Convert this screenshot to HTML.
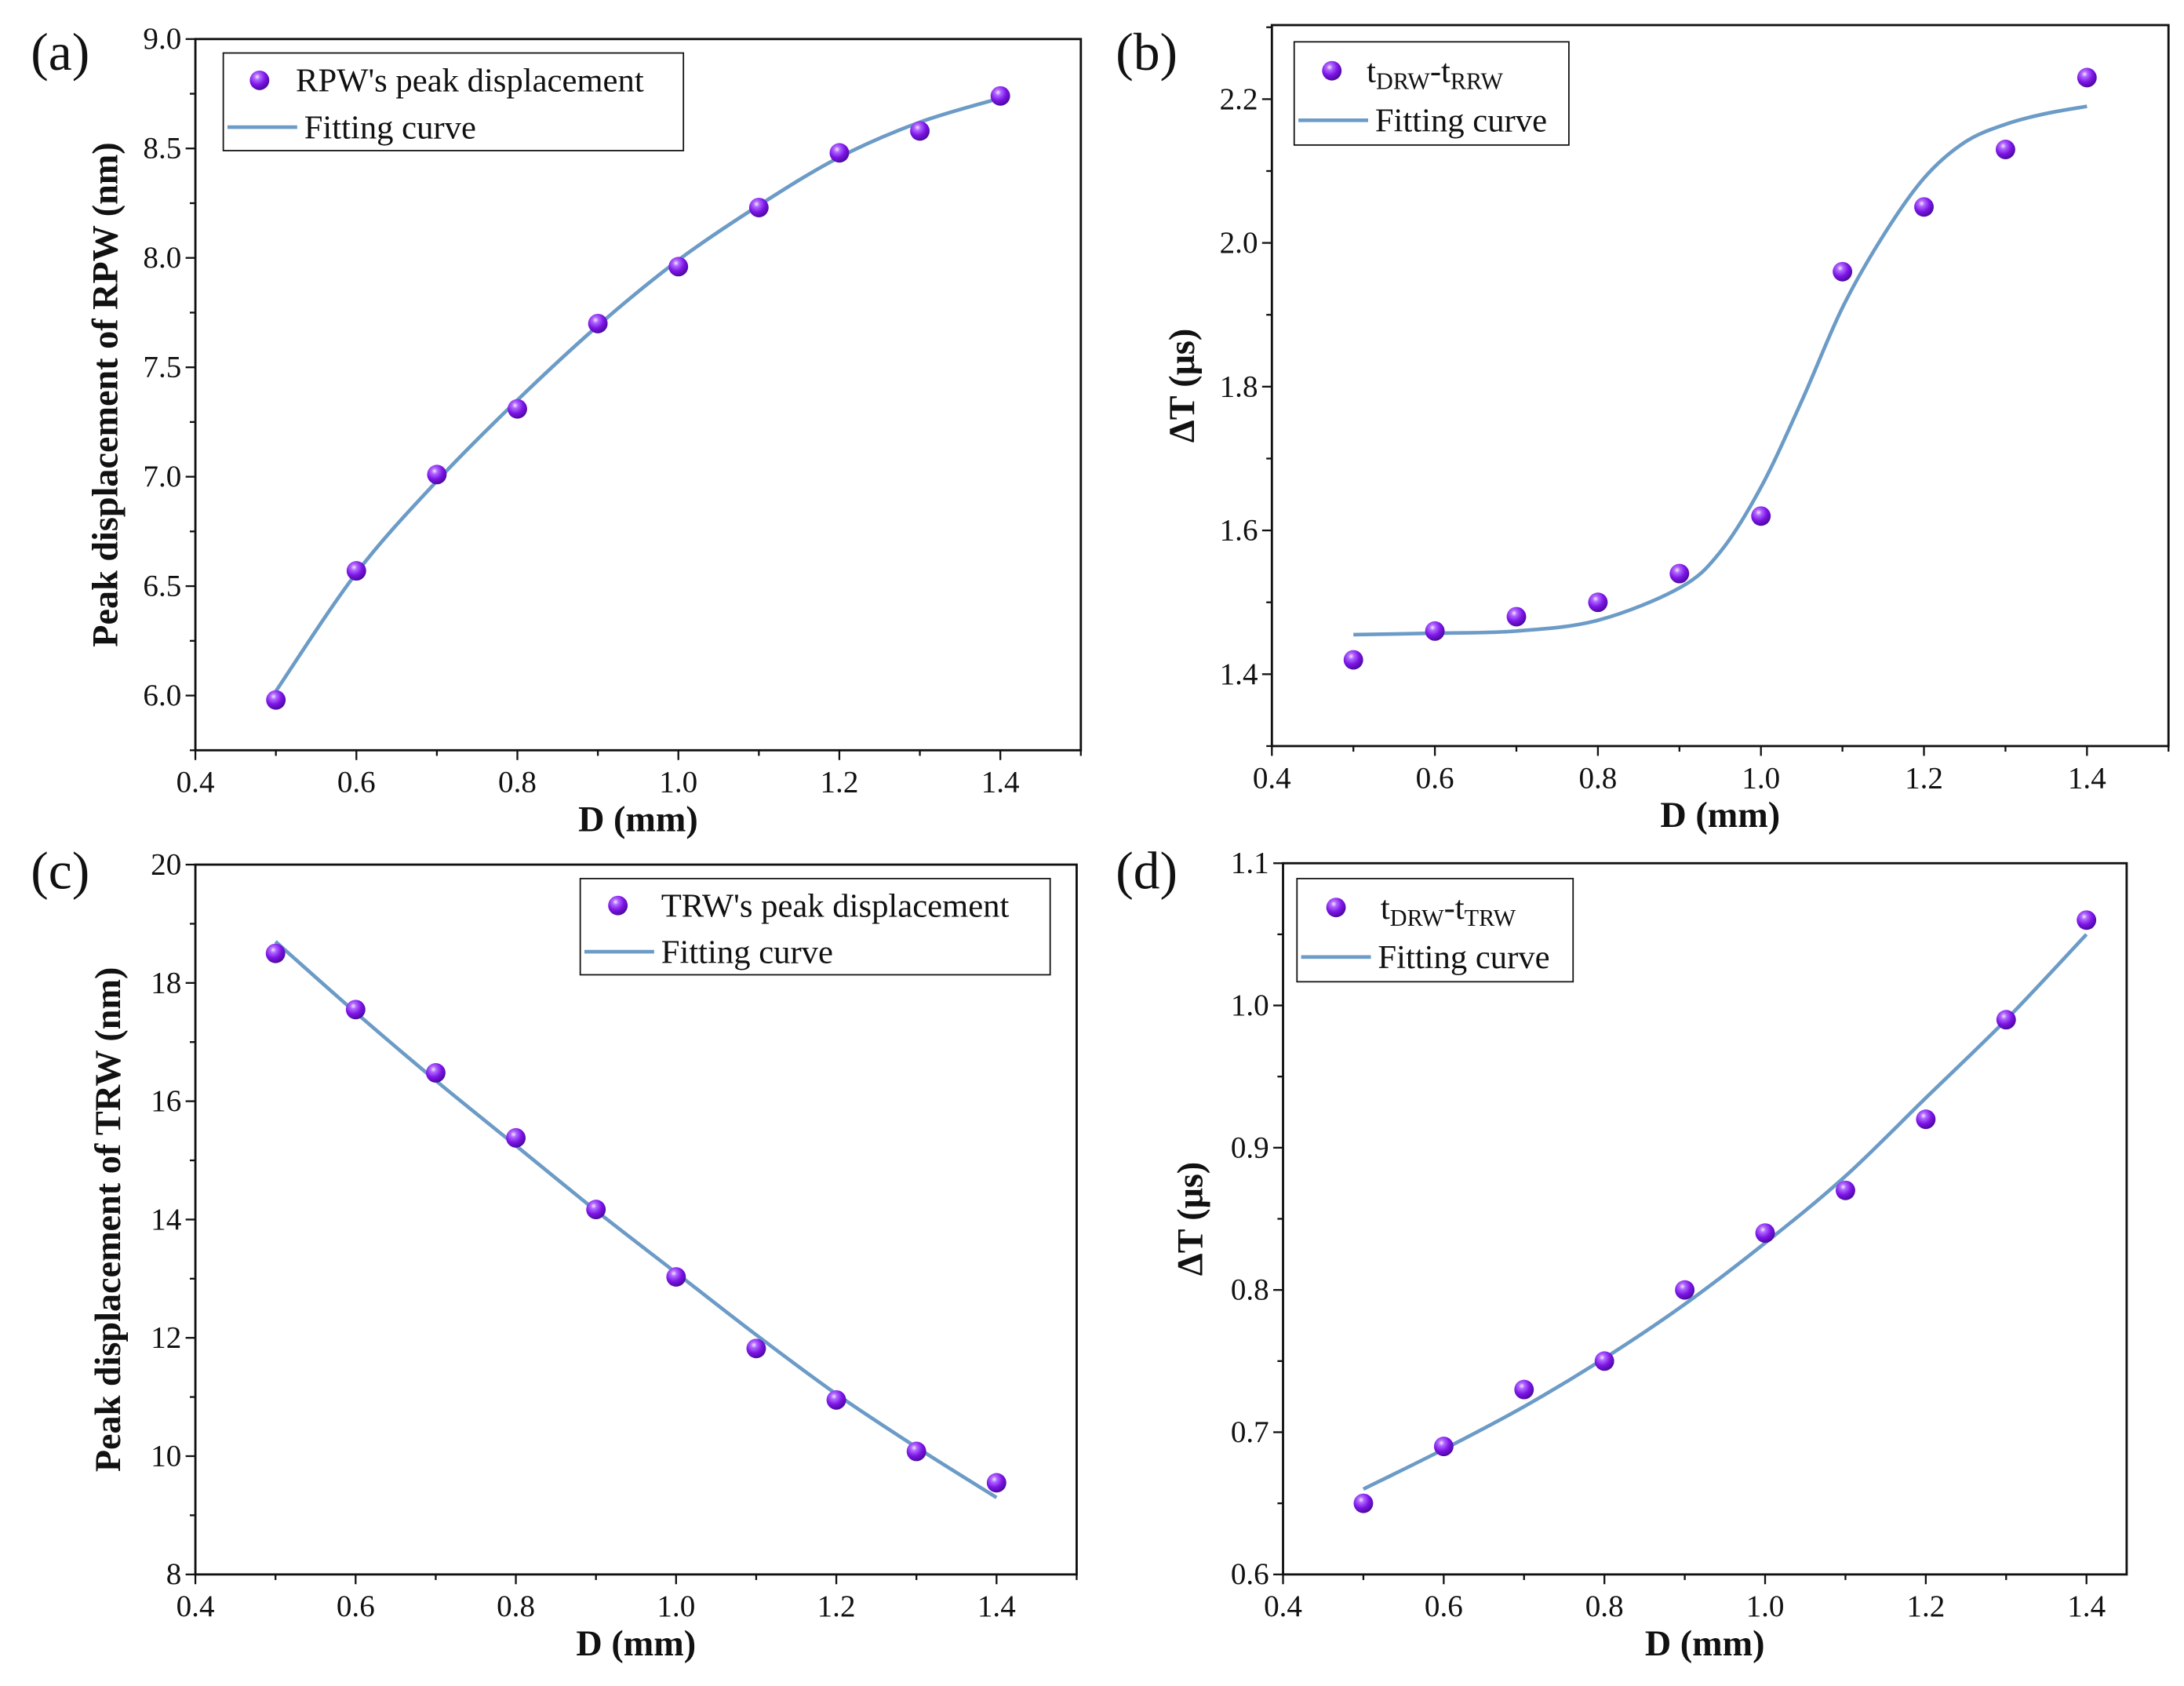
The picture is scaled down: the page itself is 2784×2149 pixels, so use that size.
<!DOCTYPE html>
<html><head><meta charset="utf-8"><style>
html,body{margin:0;padding:0;background:#fff}
svg{display:block;font-family:"Liberation Serif",serif}
text{font-family:"Liberation Serif",serif;fill:#111}
</style></head><body>
<svg id="fig" width="2784" height="2149" viewBox="0 0 1566 1209" font-family="Liberation Serif, serif" xmlns="http://www.w3.org/2000/svg">
<defs>
<radialGradient id="ball" cx="0.38" cy="0.32" r="0.7">
<stop offset="0" stop-color="#f4e8ff"/>
<stop offset="0.22" stop-color="#b066ff"/>
<stop offset="0.6" stop-color="#7c14e6"/>
<stop offset="1" stop-color="#4a0a9a"/>
</radialGradient>
</defs>
</svg>
<script>
const xCats=[0.5,0.6,0.7,0.8,0.9,1.0,1.1,1.2,1.3,1.4];
const aPoints=[5.98,6.57,7.01,7.31,7.70,7.96,8.23,8.48,8.58,8.74];
const aFit=[6.02,6.56,6.98,7.35,7.69,7.99,8.24,8.46,8.62,8.73];
const bPoints=[1.42,1.46,1.48,1.50,1.54,1.62,1.96,2.05,2.13,2.23];
const bFitX=[0.5,0.6,0.7,0.8,0.9,0.95,1.0,1.05,1.1,1.15,1.2,1.25,1.3,1.35,1.4];
const bFit=[1.455,1.457,1.46,1.475,1.52,1.57,1.66,1.78,1.91,2.01,2.09,2.14,2.165,2.18,2.19];
const cPoints=[18.5,17.55,16.48,15.38,14.17,13.03,11.82,10.95,10.08,9.55];
const cFit=[18.7,17.5,16.35,15.25,14.15,13.1,12.05,11.05,10.15,9.3];
const dPoints=[0.65,0.69,0.73,0.75,0.80,0.84,0.87,0.92,0.99,1.06];
const dFit=[0.66,0.688,0.718,0.752,0.79,0.833,0.88,0.935,0.99,1.05];
const xTicks=[0.4,0.6,0.8,1.0,1.2,1.4];
const aTicks=[6.0,6.5,7.0,7.5,8.0,8.5,9.0];
const bTicks=[1.4,1.6,1.8,2.0,2.2];
const cTicks=[8,10,12,14,16,18,20];
const dTicks=[0.6,0.7,0.8,0.9,1.0,1.1];

const NS="http://www.w3.org/2000/svg";
const svg=document.getElementById('fig');
const FF="Liberation Serif, serif";
function mk(tag,attrs,parent){const e=document.createElementNS(NS,tag);for(const k in attrs)e.setAttribute(k,attrs[k]);if(tag==='text')e.setAttribute('font-family',FF);(parent||svg).appendChild(e);return e;}
function smooth(pts){let d="M"+pts[0][0]+","+pts[0][1];for(let i=0;i<pts.length-1;i++){const p0=pts[Math.max(0,i-1)],p1=pts[i],p2=pts[i+1],p3=pts[Math.min(pts.length-1,i+2)];const c1=[p1[0]+(p2[0]-p0[0])/6,p1[1]+(p2[1]-p0[1])/6],c2=[p2[0]-(p3[0]-p1[0])/6,p2[1]-(p3[1]-p1[1])/6];d+=" C"+c1[0]+","+c1[1]+" "+c2[0]+","+c2[1]+" "+p2[0]+","+p2[1];}return d;}

function panel(o){
  const g=mk('g',{});
  
  
  const X=v=>o.x0+(v-0.4)/(o.xmax-0.4)*(o.x1-o.x0);
  const Y=v=>o.y1-(v-o.ymin)/(o.ymax-o.ymin)*(o.y1-o.y0);
  const box=mk('rect',{x:o.x0,y:o.y0,width:o.x1-o.x0,height:o.y1-o.y0,fill:'none',stroke:'#111','stroke-width':1.6},g);
  
  
  for(let v=0.4;v<=o.xmax+0.001;v+=0.1){const x=X(v);const major=Math.round(v*10)%2===0;mk('line',{x1:x,x2:x,y1:o.y1,y2:o.y1+(major?7:4),stroke:'#111','stroke-width':1.3},g);}
  xTicks.forEach(v=>{const t=mk('text',{x:X(v),y:o.y1+30,'text-anchor':'middle','font-size':22},g);t.textContent=v.toFixed(1);
    
    });
  const st=o.yticks[1]-o.yticks[0];
  for(let v=o.ymin;v<=o.ymax+1e-9;v+=st/2){const y=Y(v);const major=Math.abs((v-o.yticks[0])/st-Math.round((v-o.yticks[0])/st))<1e-6;mk('line',{x1:o.x0-(major?7:4),x2:o.x0,y1:y,y2:y,stroke:'#111','stroke-width':1.3},g);}
  o.yticks.forEach(v=>{const t=mk('text',{x:o.x0-10,y:Y(v)+7,'text-anchor':'end','font-size':22},g);t.textContent=v.toFixed(o.dec);
    
    });
  const xt=mk('text',{x:(o.x0+o.x1)/2,y:o.y1+58,'text-anchor':'middle','font-size':26,'font-weight':'bold'},g);xt.textContent='D (mm)';
  
  
  const yt=mk('text',{x:0,y:0,'text-anchor':'middle','font-size':26,'font-weight':'bold',transform:`translate(${o.ytx},${(o.y0+o.y1)/2}) rotate(-90)`},g);yt.textContent=o.ytitle;
  
  
  const pl=mk('text',{x:o.plx,y:o.ply,'font-size':38},g);pl.textContent=o.label;
  
  
  const fx=o.fitX||xCats;
  const fp=mk('path',{d:smooth(fx.map((v,i)=>[X(v),Y(o.fit[i])])),fill:'none',stroke:'#6b9bc6','stroke-width':2.6},g);
  
  
  xCats.forEach((v,i)=>{const c=mk('circle',{cx:X(v),cy:Y(o.pts[i]),r:7,fill:'url(#ball)'},g);
    
    });
  const L=o.leg;
  const lg=mk('g',{},g);
  
  
  mk('rect',{x:L.x,y:L.y,width:L.w,height:L.h,fill:'#fff',stroke:'#111','stroke-width':1},lg);
  mk('circle',{cx:L.mx,cy:L.y+L.h*0.28,r:7,fill:'url(#ball)'},lg);
  const t1=mk('text',{x:L.tx,y:L.y+L.h*0.28+8,'font-size':24},lg);
  if(o.sub){t1.innerHTML=`t<tspan font-size="17" dy="5">DRW</tspan><tspan dy="-5">-t</tspan><tspan font-size="17" dy="5">${o.sub}</tspan>`;}else t1.textContent=o.legText;
  
  
  const ly=L.y+L.h*0.76;
  mk('line',{x1:L.x+3,x2:L.x+53,y1:ly,y2:ly,stroke:'#6b9bc6','stroke-width':2.6},lg);
  const t2=mk('text',{x:L.x+58,y:ly+8,'font-size':24},lg);t2.textContent='Fitting curve';
  
  
}

panel({name:'panel-a',x0:140,x1:775,xmax:1.5,y0:28,y1:538,ymin:5.75,ymax:9.0,yticks:aTicks,dec:1,pts:aPoints,fit:aFit,
  ytitle:'Peak displacement of RPW (nm)',ytx:84,label:'(a)',plx:22,ply:50,legText:"RPW's peak displacement",
  leg:{x:160,y:38,w:330,h:70,mx:186,tx:212}});
panel({name:'panel-b',x0:912,x1:1555,xmax:1.5,y0:18,y1:535,ymin:1.3,ymax:2.303,yticks:bTicks,dec:1,pts:bPoints,fit:bFit,fitX:bFitX,
  ytitle:'ΔT (μs)',ytx:856,label:'(b)',plx:800,ply:50,sub:'RRW',
  leg:{x:928,y:30,w:197,h:74,mx:955,tx:980}});
panel({name:'panel-c',x0:140,x1:772,xmax:1.5,y0:620,y1:1129,ymin:8,ymax:20,yticks:cTicks,dec:0,pts:cPoints,fit:cFit,
  ytitle:'Peak displacement of TRW (nm)',ytx:86,label:'(c)',plx:22,ply:637,legText:"TRW's peak displacement",
  leg:{x:416,y:630,w:337,h:69,mx:443,tx:474}});
panel({name:'panel-d',x0:920,x1:1525,xmax:1.45,y0:619,y1:1129,ymin:0.6,ymax:1.1,yticks:dTicks,dec:1,pts:dPoints,fit:dFit,
  ytitle:'ΔT (μs)',ytx:862,label:'(d)',plx:800,ply:637,sub:'TRW',
  leg:{x:930,y:630,w:198,h:74,mx:958,tx:990}});
</script>
</body></html>
